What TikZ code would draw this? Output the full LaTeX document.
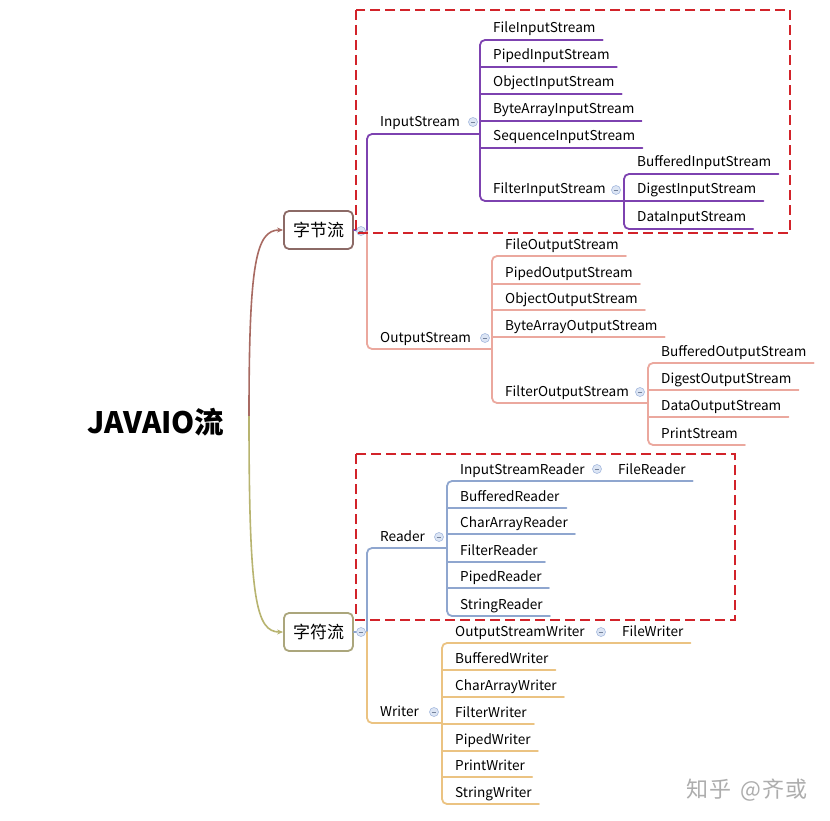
\documentclass[tikz,border=0pt]{standalone}
\usepackage{fontspec}
\setmainfont{Noto Sans CJK SC}
\newfontfamily\cjk{Noto Sans CJK SC}
\usetikzlibrary{calc,arrows.meta}
\definecolor{cin}{HTML}{7D42B0}
\definecolor{cout}{HTML}{EBA89E}
\definecolor{crd}{HTML}{8FA6CF}
\definecolor{cwr}{HTML}{EBC382}
\definecolor{croota}{HTML}{A86A62}
\definecolor{crootb}{HTML}{B8B470}
\definecolor{boxa}{HTML}{8C6A66}
\definecolor{boxb}{HTML}{ABA67C}
\definecolor{dred}{HTML}{D2232A}
\definecolor{colfill}{HTML}{DCE5F4}
\definecolor{colline}{HTML}{A6BADF}
\newcommand\lf[4]{\node[lbl] (#1) at (#2+13,#3-7) {#4};}
\newcommand\ue[1]{($(#1.base east)+(7,7)$)}
\begin{document}
\begin{tikzpicture}[x=1pt,y=-1pt,
  lbl/.style={font=\fontsize{13.6}{14}\selectfont, inner sep=0pt, anchor=base west, text=black},
  br/.style={line width=1.8pt, line cap=round},
  rc/.style={rounded corners=5pt},
  mcirc/.style={circle, draw=colline, fill=colfill, minimum size=9pt, inner sep=0pt, line width=0.6pt,
    path picture={\draw[colline!70!black, line width=0.7pt] ([xshift=-2.3pt]path picture bounding box.center) -- ([xshift=2.3pt]path picture bounding box.center);}},
  topbox/.style={rounded corners=5pt, line width=1.8pt, fill=white, minimum width=69pt, minimum height=38pt, inner sep=0pt, font=\cjk\fontsize{17}{17}\selectfont},
  dbox/.style={dred, line width=2pt, dash pattern=on 10pt off 5pt}
]
\useasboundingbox[fill=white] (0,0) rectangle (830,821);

% root
\node[font=\cjk\bfseries\fontsize{29.5}{30}\selectfont, inner sep=0pt] (root) at (156,422) {JAVAIO流};
\coordinate (rj) at (249,416);
\node[topbox, draw=boxa] (ba) at (318.5,230) {字节流};
\node[topbox, draw=boxb] (bb) at (318.5,632) {字符流};
\draw[croota, line width=1.6pt, -{Stealth[length=6pt,width=5pt]}] (rj) .. controls (249,262) and (256,230) .. (ba.west);
\draw[crootb, line width=1.6pt, -{Stealth[length=6pt,width=5pt]}] (rj) .. controls (249,600) and (256,632) .. (bb.west);

% ---------- byte: input ----------
\lf{is}{367}{134}{InputStream}
\lf{fis}{480}{40}{FileInputStream}
\lf{pis}{480}{67}{PipedInputStream}
\lf{ois}{480}{94}{ObjectInputStream}
\lf{bais}{480}{121}{ByteArrayInputStream}
\lf{sis}{480}{148}{SequenceInputStream}
\lf{filis}{480}{201}{FilterInputStream}
\lf{bis}{624}{174}{BufferedInputStream}
\lf{dis}{624}{201}{DigestInputStream}
\lf{datis}{624}{229}{DataInputStream}
\draw[cin,br] (ba.east) -- (367,231);
\draw[cin,br,rc] (367,231) -- (367,134) -- (480,134);
\draw[cin,br,rc] \ue{fis} -- (480,40) -- (480,201) -- (624,201);
\draw[cin,br] (480,67) -- \ue{pis};
\draw[cin,br] (480,94) -- \ue{ois};
\draw[cin,br] (480,121) -- \ue{bais};
\draw[cin,br] (480,148) -- \ue{sis};
\draw[cin,br,rc] \ue{bis} -- (624,174) -- (624,229) -- \ue{datis};
\draw[cin,br] (624,201) -- \ue{dis};

% ---------- byte: output ----------
\lf{os}{367}{349}{OutputStream}
\lf{fos}{492}{256}{FileOutputStream}
\lf{pos}{492}{284}{PipedOutputStream}
\lf{oos}{492}{310}{ObjectOutputStream}
\lf{baos}{492}{337}{ByteArrayOutputStream}
\lf{filos}{492}{403}{FilterOutputStream}
\lf{bos}{648}{363}{BufferedOutputStream}
\lf{dos}{648}{390}{DigestOutputStream}
\lf{datos}{648}{417}{DataOutputStream}
\lf{ps}{648}{445}{PrintStream}
\draw[cout,br,rc] (367,231) -- (367,349) -- (492,349);
\draw[cout,br,rc] \ue{fos} -- (492,256) -- (492,403) -- (648,403);
\draw[cout,br] (492,284) -- \ue{pos};
\draw[cout,br] (492,310) -- \ue{oos};
\draw[cout,br] (492,337) -- \ue{baos};
\draw[cout,br,rc] \ue{bos} -- (648,363) -- (648,445) -- \ue{ps};
\draw[cout,br] (648,390) -- \ue{dos};
\draw[cout,br] (648,417) -- \ue{datos};

% ---------- char: reader ----------
\lf{rd}{367}{548}{Reader}
\lf{isr}{447}{481}{InputStreamReader}
\lf{frd}{605}{481}{FileReader}
\lf{bfr}{447}{508}{BufferedReader}
\lf{car}{447}{534}{CharArrayReader}
\lf{ftr}{447}{562}{FilterReader}
\lf{pdr}{447}{588}{PipedReader}
\lf{str}{447}{616}{StringReader}
\draw[crd,br] (bb.east) -- (367,632);
\draw[crd,br,rc] (367,632) -- (367,548) -- (447,548);
\draw[crd,br,rc] \ue{frd} -- (447,481) -- (447,616) -- \ue{str};
\draw[crd,br] (447,508) -- \ue{bfr};
\draw[crd,br] (447,534) -- \ue{car};
\draw[crd,br] (447,562) -- \ue{ftr};
\draw[crd,br] (447,588) -- \ue{pdr};

% ---------- char: writer ----------
\lf{wr}{367}{723}{Writer}
\lf{osw}{442}{643}{OutputStreamWriter}
\lf{fwr}{609}{643}{FileWriter}
\lf{bfw}{442}{670}{BufferedWriter}
\lf{caw}{442}{697}{CharArrayWriter}
\lf{ftw}{442}{724}{FilterWriter}
\lf{pdw}{442}{751}{PipedWriter}
\lf{prw}{442}{777}{PrintWriter}
\lf{stw}{442}{804}{StringWriter}
\draw[cwr,br,rc] (367,632) -- (367,723) -- (442,723);
\draw[cwr,br,rc] \ue{fwr} -- (442,643) -- (442,804) -- \ue{stw};
\draw[cwr,br] (442,670) -- \ue{bfw};
\draw[cwr,br] (442,697) -- \ue{caw};
\draw[cwr,br] (442,724) -- \ue{ftw};
\draw[cwr,br] (442,751) -- \ue{pdw};
\draw[cwr,br] (442,777) -- \ue{prw};

% collapse markers
\node[mcirc] (ma) at (361,231) {};
\node[mcirc] (mb) at (473,122) {};
\node[mcirc] (mc) at (485,338) {};
\node[mcirc] (md) at (616,190) {};
\node[mcirc] (me) at (640,392) {};
\node[mcirc] (mf) at (361,632) {};
\node[mcirc] (mg) at (439,537) {};
\node[mcirc] (mh) at (597,469) {};
\node[mcirc] (mi) at (434,712) {};
\node[mcirc] (mj) at (601,632) {};

% dashed highlight boxes
\draw[dbox] (356,10) rectangle (790,233);
\draw[dbox] (356,454) rectangle (735,620);

% watermark
\node[font=\cjk\fontsize{22}{22}\selectfont, text=black!32, anchor=base east, inner sep=0pt] (wm) at (808,797) {知\hspace{1pt}乎\hspace{9pt}@\hspace{1pt}齐\hspace{1pt}或};
\end{tikzpicture}
\end{document}
